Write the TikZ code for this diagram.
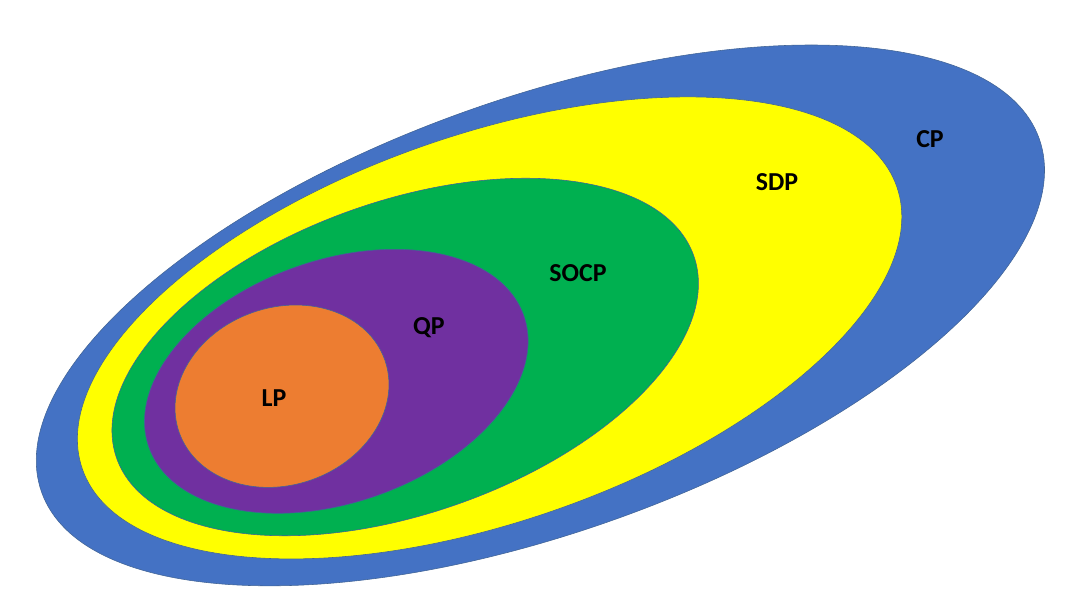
\documentclass[tikz,border=0pt]{standalone}
\usepackage{fontspec}
\setmainfont{Carlito}
\definecolor{cpblue}{RGB}{68,114,196}
\definecolor{sdpyellow}{RGB}{255,255,0}
\definecolor{socpgreen}{RGB}{0,176,80}
\definecolor{qppurple}{RGB}{112,48,160}
\definecolor{lporange}{RGB}{237,125,49}
\definecolor{rim}{RGB}{65,100,150}
\tikzset{
  region/.style={draw=rim,line width=0.4pt,fill=#1},
  setlabel/.style={font=\fontsize{18.4}{22}\selectfont\bfseries,inner sep=0pt}
}

\begin{document}
\begin{tikzpicture}[x=0.025cm,y=-0.025cm]
        \useasboundingbox (0,0) rectangle (1080,608);
        % nested sets, outer to inner
        \draw[region=cpblue,rotate around={19.5:(540.4,315.4)}] (540.4,315.4) ellipse [x radius=529.2,y radius=217.2];
        \draw[region=sdpyellow,rotate around={19.1:(489.6,327.9)}] (489.6,327.9) ellipse [x radius=431,y radius=193.6];
        \draw[region=socpgreen,rotate around={19.3:(405.2,357)}] (405.2,357) ellipse [x radius=305.8,y radius=156.2];
        \draw[region=qppurple,rotate around={19.3:(336.3,381.3)}] (336.3,381.3) ellipse [x radius=198.7,y radius=121.3];
        \draw[region=lporange,rotate around={19.4:(282,396.2)}] (282,396.2) ellipse [x radius=109,y radius=88.7];
        % labels
        \node[setlabel] (cp) at (930,139) {CP};
        \node[setlabel] (sdp) at (777,182) {SDP};
        \node[setlabel] (socp) at (578,273) {SOCP};
        \node[setlabel] (qp) at (429,328) {QP};
        \node[setlabel] (lp) at (274,398) {LP};
    \end{tikzpicture}
\end{document}
